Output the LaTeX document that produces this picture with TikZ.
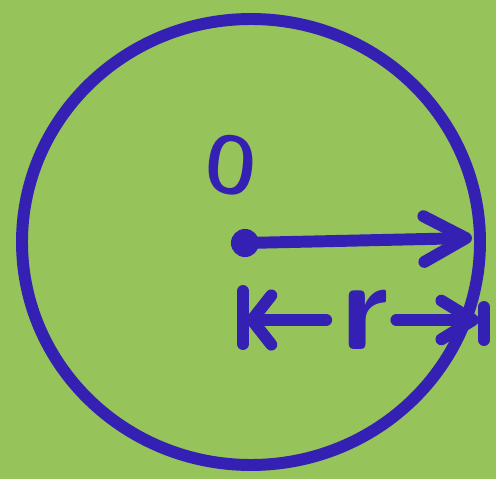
\documentclass[tikz,border=0pt]{standalone}
\usepackage{xcolor}
\definecolor{bgcolor}{HTML}{96C45A}
\definecolor{inkcolor}{HTML}{3520B4}
\usepackage{tikz}
\usetikzlibrary{positioning, calc, arrows.meta}

\begin{document}
\begin{tikzpicture}[
  x=0.02cm, y=-0.02cm,
  ink/.style={draw=inkcolor, line width=6.8pt, line cap=round, line join=round},
  barbtip/.style 2 args={-{Straight Barb[length=#1, width=#2, line width=6.8pt, round]}},
  label/.style={text=inkcolor, font=\sffamily\bfseries, inner sep=0pt},
]

% 背景
\fill[bgcolor] (0,0) rectangle (496,479);
\useasboundingbox (0,0) rectangle (496,479);

% 圆
\draw[ink] (251,242) ellipse [x radius=229, y radius=223];

% 圆心与半径
\node[circle, fill=inkcolor, minimum size=16pt, inner sep=0pt] (ctr) at (245,243) {};
\node[label, xscale=0.8, rotate=-8, font=\sffamily\bfseries\fontsize{46}{46}\selectfont] (olab) at (231,165) {O};
\coordinate (rim) at (472,238);
\draw[ink, barbtip={24pt}{26pt}] (ctr.center) -- (rim);

% 尺寸线
\coordinate (dimL) at (246,318);
\coordinate (dimR) at (479,322);
\node[label, font=\sffamily\bfseries\fontsize{72}{72}\selectfont] (rlab) at (365,320) {r};
\coordinate[left=0.3cm of rlab.west] (lstart);
\coordinate[right=0.15cm of rlab.east] (rstart);
\draw[ink, barbtip={11pt}{28pt}] (lstart) -- (dimL |- lstart);
\draw[ink, barbtip={18pt}{22pt}] (rstart) -- (dimR |- rstart);
\draw[ink] ($(dimL)+(-3,-27)$) -- ($(dimL)+(-3,26)$);
\draw[ink] ($(dimR)+(5,-15)$) -- ($(dimR)+(5,18)$);

\end{tikzpicture}
\end{document}
